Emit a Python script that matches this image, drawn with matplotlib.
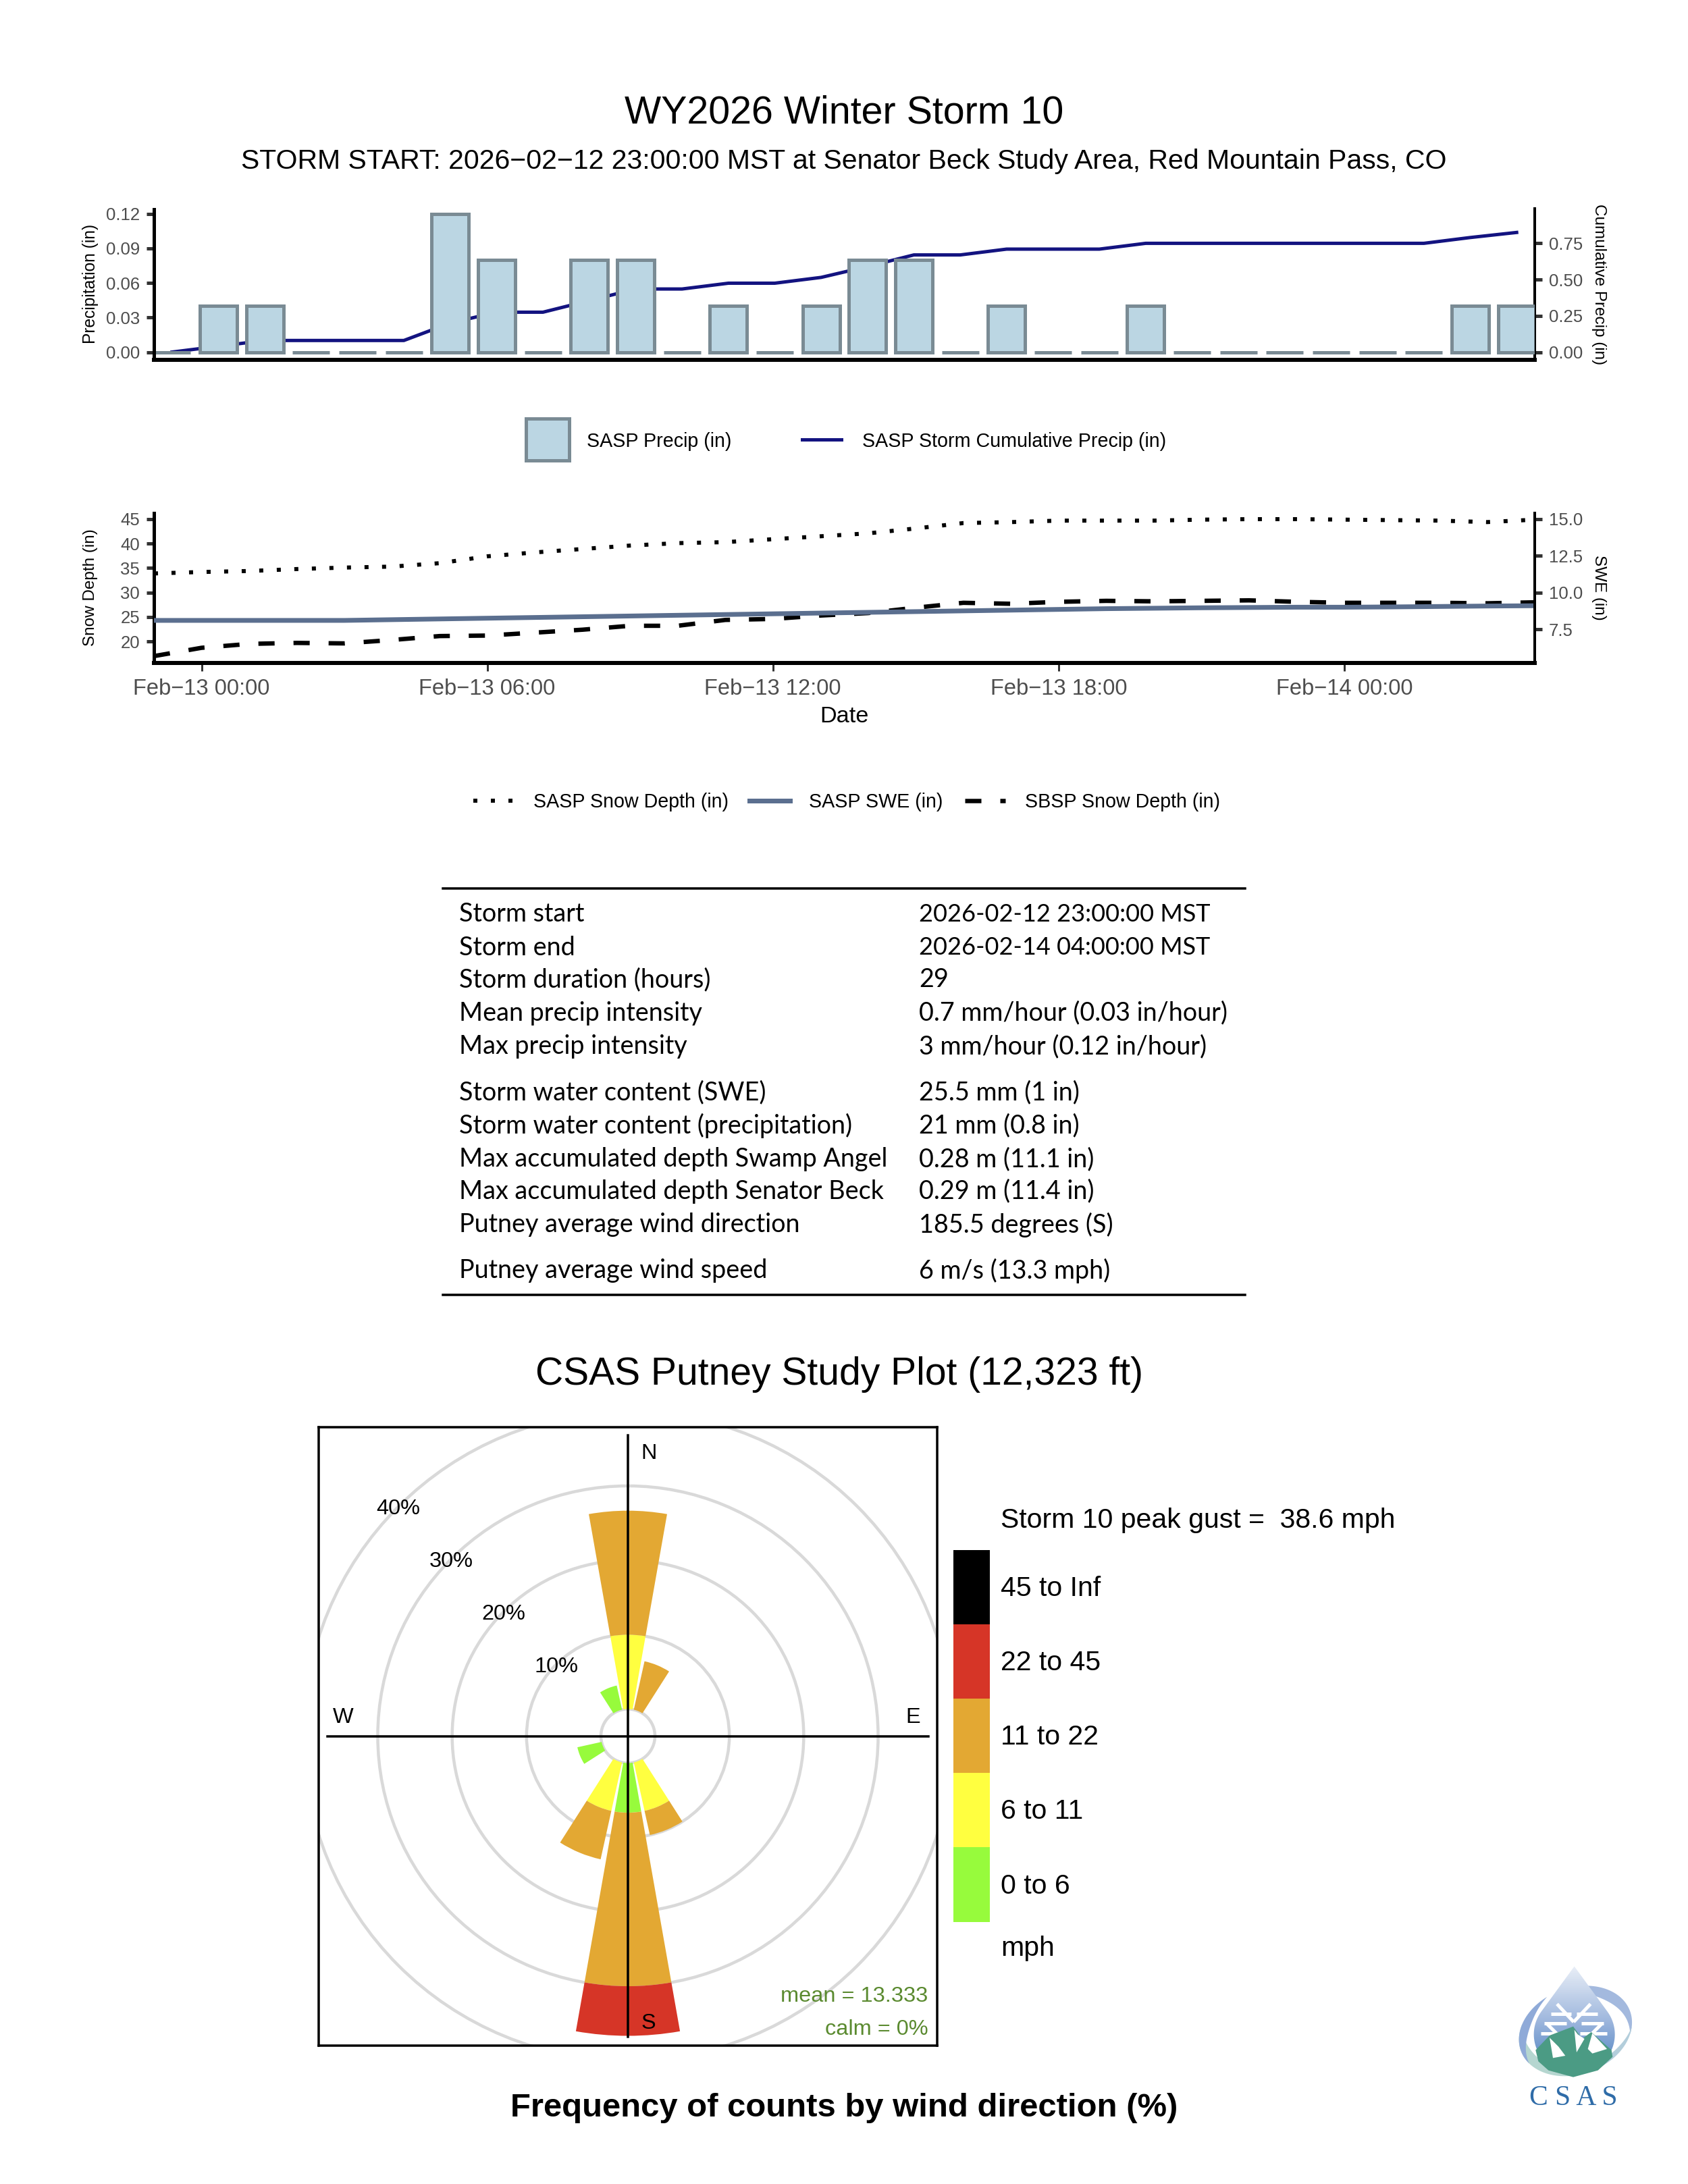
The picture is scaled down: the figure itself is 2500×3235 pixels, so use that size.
import numpy as np
import matplotlib
matplotlib.use("Agg")
import matplotlib.pyplot as plt
from matplotlib.patches import Wedge, Circle, Rectangle, Polygon
from matplotlib.colors import LinearSegmentedColormap

plt.rcParams['font.family'] = ['Liberation Sans', 'DejaVu Sans']
plt.rcParams['lines.scale_dashes'] = False

# ---------- data ----------
bar_idx = np.arange(30)
precip = [0, .04, .04, 0, 0, 0, .12, .08, 0, .08, .08, 0, .04, 0, .04, .08, .08, 0, .04, 0, 0, .04, 0, 0, 0, 0, 0, 0, .04, .04]
cum_precip = [0, .04, .08, .08, .08, .08, .2, .275, .275, .355, .435, .435, .475, .475, .515, .59, .67, .67, .71, .71, .71, .75,
              .75, .75, .75, .75, .75, .75, .79, .825]
hours = np.arange(-1, 29)
sasp_depth = [33.9, 34.2, 34.4, 34.8, 35.1, 35.3, 36.0, 37.4, 38.2, 38.9, 39.6, 40.1, 40.3, 40.9, 41.5, 42.1,
              43.1, 44.2, 44.4, 44.7, 44.7, 44.7, 44.9, 45.0, 45.0, 44.9, 44.8, 44.7, 44.4, 44.9]
sasp_swe = [8.1, 8.1, 8.1, 8.1, 8.1, 8.15, 8.2, 8.25, 8.3, 8.35, 8.4, 8.45, 8.5, 8.55, 8.6, 8.65,
            8.7, 8.75, 8.8, 8.85, 8.9, 8.93, 8.96, 8.98, 9.0, 9.0, 9.02, 9.05, 9.08, 9.1]
sbsp_depth = [17.0, 18.7, 19.5, 19.7, 19.6, 20.3, 21.1, 21.2, 21.8, 22.4, 23.2, 23.2, 24.4, 24.6, 25.3, 25.8,
              26.9, 27.9, 27.7, 28.1, 28.3, 28.2, 28.3, 28.4, 28.1, 27.9, 27.9, 27.9, 27.8, 28.0]
date_ticks = [0, 6, 12, 18, 24]
date_labels = ['Feb\u221213 00:00', 'Feb\u221213 06:00', 'Feb\u221213 12:00', 'Feb\u221213 18:00', 'Feb\u221214 00:00']

table_left = ['Storm start', 'Storm end', 'Storm duration (hours)', 'Mean precip intensity', 'Max precip intensity',
              'Storm water content (SWE)', 'Storm water content (precipitation)', 'Max accumulated depth Swamp Angel',
              'Max accumulated depth Senator Beck', 'Putney average wind direction', 'Putney average wind speed']
table_right = ['2026-02-12 23:00:00 MST', '2026-02-14 04:00:00 MST', '29', '0.7 mm/hour (0.03 in/hour)',
               '3 mm/hour (0.12 in/hour)', '25.5 mm (1 in)', '21 mm (0.8 in)', '0.28 m (11.1 in)', '0.29 m (11.4 in)',
               '185.5 degrees (S)', '6 m/s (13.3 mph)']

rose_dirs = [0, 22.5, 157.5, 180, 202.5, 247.5, 337.5]
rose_0_6 = [0, 0, 0, 6.67, 0, 3.33, 3.33]
rose_6_11 = [10, 0, 6.67, 0, 6.67, 0, 0]
rose_11_22 = [16.67, 6.67, 3.33, 23.33, 6.67, 0, 0]
rose_22_45 = [0, 0, 0, 6.67, 0, 0, 0]
rose_45_inf = [0, 0, 0, 0, 0, 0, 0]
speed_labels = ['45 to Inf', '22 to 45', '11 to 22', '6 to 11', '0 to 6']
speed_colors = ['#000000', '#D63527', '#E3A833', '#FFFF40', '#97FB3C']

# ---------- layout helpers ----------
W, H = 2500, 3235
S = 2500 / 1212
fig = plt.figure(figsize=(W / 100, H / 100), dpi=100, facecolor='white')
PX = 0.72


def axpx(l, t, r, b, **kw):
    return fig.add_axes([l / W, 1 - b / H, (r - l) / W, (b - t) / H], **kw)


ov = fig.add_axes([0, 0, 1, 1], zorder=10)
ov.set_xlim(0, W)
ov.set_ylim(H, 0)
ov.axis('off')
ov.patch.set_alpha(0)


def T(x, y, s, size, **kw):
    kw.setdefault('ha', 'left')
    kw.setdefault('va', 'center')
    kw.setdefault('color', 'black')
    return ov.text(x * S, (y + 1) * S, s, fontsize=size, **kw)


GRAY = '#4D4D4D'


def style(ax):
    for sp in ax.spines.values():
        sp.set_visible(False)
    ax.patch.set_alpha(0)
    ax.tick_params(axis='y', length=8, width=5 * PX, color='#333333', labelcolor=GRAY, labelsize=18.5, pad=7)


# ---------- panel 1 ----------
L, R = 228, 2273
a1 = axpx(L, 309.5, R, 532.5, zorder=2)
a1t = a1.twinx()
a1.set_zorder(2)
a1t.set_zorder(1)
a1.set_xlim(-0.39, 29.39)
a1.set_ylim(-0.0064, 0.1241)
a1t.set_ylim(-0.0512, 0.987)
a1.bar(bar_idx, precip, width=0.8, facecolor='#BBD6E3', edgecolor='#7A8B94', linewidth=5 * PX)
a1t.plot(bar_idx, cum_precip, color='#131380', lw=5 * PX, solid_joinstyle='round')
style(a1)
style(a1t)
a1.set_xticks([])
a1.set_yticks([0, .03, .06, .09, .12], ['0.00', '0.03', '0.06', '0.09', '0.12'])
a1t.set_yticks([0, .25, .5, .75], ['0.00', '0.25', '0.50', '0.75'])
a1.spines['left'].set_visible(True)
a1.spines['left'].set_linewidth(5 * PX)
a1.spines['bottom'].set_visible(True)
a1.spines['bottom'].set_linewidth(6 * PX)
a1t.spines['right'].set_visible(True)
a1t.spines['right'].set_linewidth(4 * PX)

# ---------- panel 2 ----------
a2 = axpx(L, 760, R, 982, zorder=2)
a2t = a2.twinx()
a2.set_xlim(-1, 28)
a2.set_ylim(15.6, 46.24)
a2t.set_ylim(15.6 / 3, 46.24 / 3)
a2.plot(hours, sasp_depth, color='black', lw=6 * PX, dashes=(6 * PX, 20 * PX))
a2.plot(hours, sbsp_depth, color='black', lw=6.5 * PX, dashes=(24 * PX, 28 * PX))
a2t.plot(hours, sasp_swe, color='#5B6F8F', lw=7 * PX)
style(a2)
style(a2t)
a2.set_xticks(date_ticks, date_labels)
a2.tick_params(axis='x', length=8.5, width=3 * PX, color='#333333', labelcolor=GRAY, labelsize=23.5, pad=8)
a2.set_yticks([20, 25, 30, 35, 40, 45])
a2t.set_yticks([7.5, 10, 12.5, 15], ['7.5', '10.0', '12.5', '15.0'])
a2.spines['left'].set_visible(True)
a2.spines['left'].set_linewidth(5 * PX)
a2.spines['bottom'].set_visible(True)
a2.spines['bottom'].set_linewidth(6 * PX)
a2t.spines['right'].set_visible(True)
a2t.spines['right'].set_linewidth(4 * PX)

# ---------- titles and axis texts ----------
T(606, 80, 'WY2026 Winter Storm 10', 41.3, ha='center')
T(606, 115, 'STORM START: 2026\u221202\u221212 23:00:00 MST at Senator Beck Study Area, Red Mountain Pass, CO', 29.5, ha='center')
T(65, 203, 'Precipitation (in)', 17.7, ha='center', rotation=90)
T(1148, 203, 'Cumulative Precip (in)', 17.5, ha='center', rotation=-90)
T(65, 421, 'Snow Depth (in)', 17.5, ha='center', rotation=90)
T(1148, 421, 'SWE (in)', 17.5, ha='center', rotation=-90)
T(606, 513.5, 'Date', 24.7, ha='center')

# ---------- legends ----------
ov.add_patch(Rectangle((377.5 * S, 300.5 * S), 31 * S, 30 * S, fc='#BBD6E3', ec='#7A8B94', lw=5 * PX))
T(421.5, 316, 'SASP Precip (in)', 20.6)
ov.plot([576 * S, 604 * S], [315.5 * S] * 2, color='#131380', lw=5 * PX)
T(619, 316, 'SASP Storm Cumulative Precip (in)', 20.6)
ov.plot([340 * S, 369 * S], [575 * S] * 2, color='black', lw=6 * PX, dashes=(6 * PX, 20 * PX))
T(383, 575, 'SASP Snow Depth (in)', 20.6)
ov.plot([538 * S, 567 * S], [575 * S] * 2, color='#5B6F8F', lw=7 * PX)
T(581, 575, 'SASP SWE (in)', 20.6)
ov.plot([693 * S, 722 * S], [575 * S] * 2, color='black', lw=6.5 * PX, dashes=(24 * PX, 28 * PX))
T(736, 575, 'SBSP Snow Depth (in)', 20.6)

# ---------- table ----------
row_y = [655.5, 679.5, 702.5, 726.5, 750.5, 783.5, 807.5, 831.5, 854.5, 878.5, 911.5]
for i, (y, a, b) in enumerate(zip(row_y, table_left, table_right)):
    T(329.5, y, a, 27.2, family='Lato')
    T(660, y, b, 26 if i < 2 else 27.2, family='Lato')
ov.plot([318 * S, 894 * S], [638 * S] * 2, color='black', lw=3.5 * PX)
ov.plot([318 * S, 894 * S], [930 * S] * 2, color='black', lw=3.5 * PX)

# ---------- wind rose ----------
T(602.5, 986, 'CSAS Putney Study Plot (12,323 ft)', 41, ha='center')
T(606, 1513, 'Frequency of counts by wind direction (%)', 35.3, ha='center', fontweight='bold')

a3 = axpx(472, 2113, 1388, 3030, zorder=3)
a3.set_aspect('equal')
half = 41.57
a3.set_xlim(-half, half)
a3.set_ylim(-half, half)
a3.set_xticks([])
a3.set_yticks([])
for sp in a3.spines.values():
    sp.set_linewidth(3.5 * PX)
OFF = 3.63
for pct in [0, 10, 20, 30, 40]:
    a3.add_patch(Circle((0, 0), OFF + pct, fc='none', ec='#D9D9D9', lw=4.5 * PX, zorder=1))
WIDTH = 20
series = [rose_0_6, rose_6_11, rose_11_22, rose_22_45, rose_45_inf]
bin_colors = speed_colors[::-1]
for k, d in enumerate(rose_dirs):
    base = OFF
    for s, c in zip(series, bin_colors):
        if s[k] > 0:
            a3.add_patch(Wedge((0, 0), base + s[k], 90 - d - WIDTH / 2, 90 - d + WIDTH / 2,
                               width=s[k], fc=c, ec='none', zorder=2))
            base += s[k]
LEN = 40.4
a3.plot([0, 0], [-LEN, LEN], color='black', lw=3.5 * PX, zorder=3)
a3.plot([-LEN, LEN], [0, 0], color='black', lw=3.5 * PX, zorder=3)
for x, y, s in [(2.8, 38.0, 'N'), (2.8, -38.6, 'S'), (-38.3, 2.5, 'W'), (38.3, 2.5, 'E')]:
    a3.text(x, y, s, fontsize=23.4, ha='center', va='center', zorder=4)
for pct in [10, 20, 30, 40]:
    v = (OFF + pct) * np.cos(np.pi / 4)
    a3.text(-v, v - 0.3, f'{pct}%', fontsize=23.4, ha='center', va='center', zorder=4)
a3.text(0.985, 0.079, 'mean = 13.333', transform=a3.transAxes, ha='right', va='center', fontsize=23.4, color='#5A8A2F')
a3.text(0.985, 0.026, 'calm = 0%', transform=a3.transAxes, ha='right', va='center', fontsize=23.4, color='#5A8A2F')

# ---------- speed key ----------
T(718.5, 1091, 'Storm 10 peak gust =  38.6 mph', 29.5)
top, step = 1113, 53.4
for i, (lab, c) in enumerate(zip(speed_labels, speed_colors)):
    ov.add_patch(Rectangle((684.5 * S, (top + i * step) * S), 26 * S, step * S, fc=c, ec='none'))
    T(718.5, top + (i + .5) * step, lab, 29.5)
T(718.5, 1398, 'mph', 29.5)

# ---------- logo ----------
lx = lambda x: 2180 + np.asarray(x, float) / 3
ly = lambda y: 2880 + np.asarray(y, float) / 3
ang = np.radians(-20)


def crescent(t0, t1, w0, w1, color):
    t = np.radians(np.linspace(t0, t1, 80))
    wid = w0 + (w1 - w0) * np.sin(np.linspace(0, np.pi, 80))
    ptsx, ptsy = [], []
    for a, b, tt in [(258, 192, t), (258 - wid, 192 - wid, t)]:
        px = a * np.cos(tt)
        py = b * np.sin(tt)
        ptsx.append(460 + px * np.cos(ang) - py * np.sin(ang))
        ptsy.append(385 + px * np.sin(ang) + py * np.cos(ang))
    xs = np.r_[ptsx[0], ptsx[1][::-1]]
    ys = np.r_[ptsy[0], ptsy[1][::-1]]
    ov.add_patch(Polygon(np.c_[lx(xs), ly(ys)], fc=color, ec='none'))


crescent(-95, 30, 0, 48, '#A3B9DE')
crescent(20, 110, 0, 22, '#B3CEDB')
crescent(110, 215, 0, 45, '#B5D6D0')
crescent(160, 255, 0, 38, '#8FAAD8')
# drop
t = np.radians(np.linspace(-35, 215, 80))
dx = np.r_[455 + 180 * np.cos(t), 455]
dy = np.r_[400 + 175 * np.sin(t), 98]
drop = Polygon(np.c_[lx(dx), ly(dy)], closed=True, fc='none', ec='none')
ov.add_patch(drop)
cmap = LinearSegmentedColormap.from_list('d', ['#E8EEF7', '#9DB6DD', '#3E78BB'])
im = ov.imshow(np.linspace(0, 1, 64)[:, None], extent=(lx(270), lx(640), ly(590), ly(95)), cmap=cmap, aspect='auto', zorder=1.5)
im.set_clip_path(drop)
ov.set_xlim(0, W)
ov.set_ylim(H, 0)
# snowflake
for seg in [[(452, 345), (378, 265)], [(452, 345), (527, 265)], [(350, 310), (440, 310)], [(465, 310), (558, 310)],
            [(305, 395), (425, 395)], [(480, 395), (600, 395)], [(330, 350), (375, 395)], [(580, 350), (535, 395)],
            [(320, 350), (420, 350)], [(485, 350), (585, 350)]]:
    ov.plot(lx([seg[0][0], seg[1][0]]), ly([seg[0][1], seg[1][1]]), color='white', lw=5 * PX, zorder=2, solid_capstyle='butt')
# mountains
ov.add_patch(Polygon(np.c_[lx([283, 345, 450, 490, 530, 620, 625, 560, 450, 340, 295]),
                           ly([470, 405, 365, 420, 390, 470, 500, 560, 590, 560, 520])], fc='#4B9B84', ec='none', zorder=3))
for px_, py_ in [([345, 385, 415, 360], [415, 455, 495, 505]), ([455, 470, 500, 465], [380, 400, 420, 480]),
                 ([535, 600, 535, 515], [395, 465, 485, 465])]:
    ov.add_patch(Polygon(np.c_[lx(px_), ly(py_)], fc='white', ec='none', zorder=4))
ov.text(lx(452), ly(682), 'C S A S', fontsize=30, family='Liberation Serif', color='#2F6CA8', ha='center', va='center')

fig.savefig('out.png', dpi=100, facecolor='white')
